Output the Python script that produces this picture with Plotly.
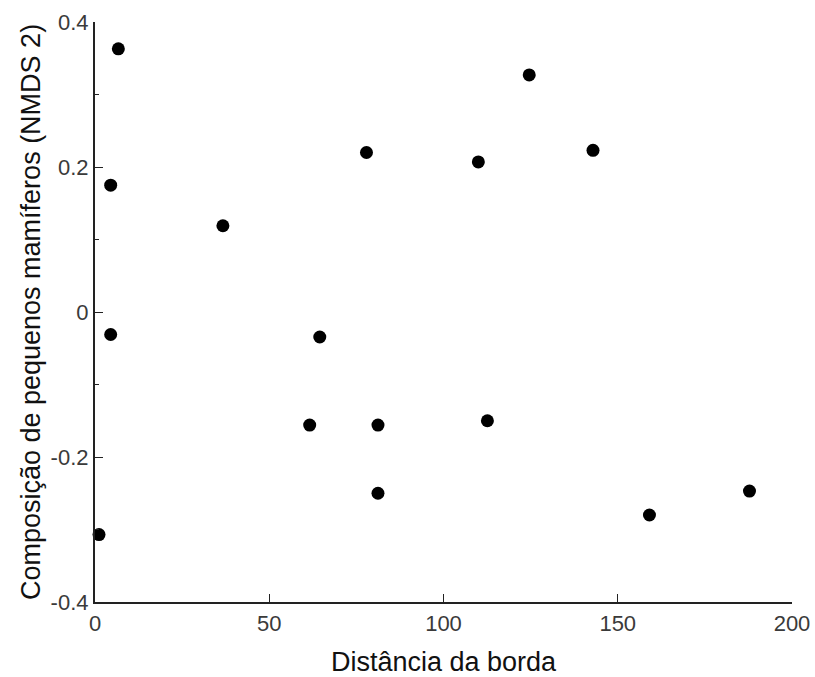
import plotly.graph_objects as go

distancia = [6.7, 4.5, 4.5, 1.15, 36.7, 64.5, 61.6, 77.9, 81.2, 81.2, 110.0, 112.6, 124.6, 142.9, 159.1, 187.8]
nmds2 = [0.363, 0.175, -0.031, -0.307, 0.119, -0.0345, -0.156, 0.220, -0.156, -0.250, 0.207, -0.150, 0.327, 0.223, -0.280, -0.247]

x_ticks = [0, 50, 100, 150, 200]
y_ticks = [-0.4, -0.2, 0, 0.2, 0.4]
y_tick_text = ["-0.4", "-0.2", "0", "0.2", "0.4"]

fig = go.Figure()
fig.add_trace(go.Scatter(
    x=distancia, y=nmds2, mode="markers",
    marker=dict(color="black", size=13, line=dict(width=0)),
    cliponaxis=False, showlegend=False,
))

font = "Liberation Sans, Arial, sans-serif"
fig.update_layout(
    width=815, height=677, autosize=False,
    margin=dict(l=95, r=23, t=22, b=75, pad=0, autoexpand=False),
    paper_bgcolor="white", plot_bgcolor="white",
    font=dict(family=font, color="#333"),
    xaxis=dict(
        range=[0, 200], tickvals=x_ticks, ticks="inside", ticklen=8, tickwidth=1.2,
        tickcolor="#222", showline=True, linecolor="#222", linewidth=2.2,
        showgrid=False, zeroline=False, tickfont=dict(size=22, color="#3a3a3a"),
        automargin=False,
        title=dict(text="Distância da borda", font=dict(size=27, color="#111"), standoff=18),
    ),
    yaxis=dict(
        range=[-0.4, 0.4], tickvals=y_ticks, ticktext=y_tick_text, ticks="inside", ticklen=8,
        tickwidth=1.2, tickcolor="#222", showline=True, linecolor="#222", linewidth=2.2,
        showgrid=False, zeroline=False, tickfont=dict(size=22, color="#3a3a3a"),
        automargin=False,
        minor=dict(dtick=0.1, ticks="inside", ticklen=4, tickwidth=1.2, tickcolor="#222", showgrid=False),
        title=dict(text="Composição de pequenos mamíferos (NMDS 2)", font=dict(size=27, color="#111"), standoff=2),
    ),
)

fig.write_html("out.html")
